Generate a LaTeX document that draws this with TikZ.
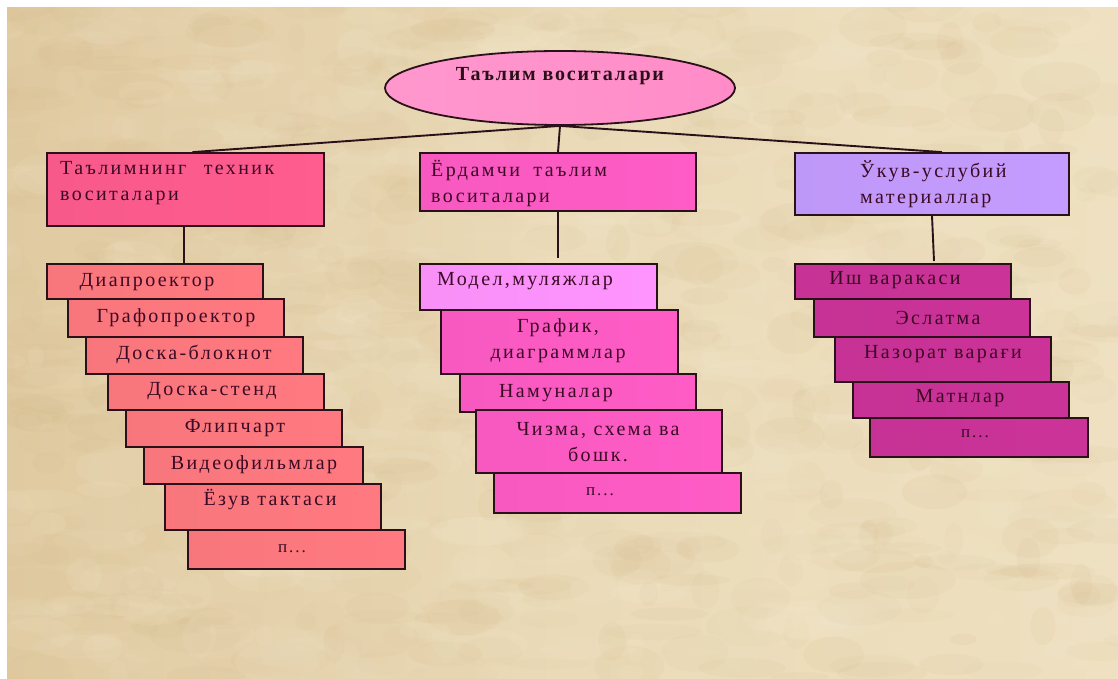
\documentclass[tikz,border=0pt]{standalone}
\usepackage{fontspec}
\setmainfont{Liberation Serif}
\usetikzlibrary{shapes.geometric}
\definecolor{inkc}{HTML}{2A1018}
\definecolor{textc}{HTML}{3C0A24}
\definecolor{paper}{HTML}{EEE0C0}
\definecolor{tanc}{HTML}{D4B888}
\definecolor{pale}{HTML}{F8F0D8}
\definecolor{rootc}{HTML}{FF8CC8}
\definecolor{ca}{HTML}{FF5C8F}
\definecolor{cb}{HTML}{FF5CC6}
\definecolor{cc}{HTML}{C49CFF}
\definecolor{sa}{HTML}{FF7A80}
\definecolor{sm}{HTML}{FF94FF}
\definecolor{sc}{HTML}{CC3399}
\newfontfamily\wide[LetterSpace=12]{Liberation Serif}
\newfontfamily\widebold[LetterSpace=9]{Liberation Serif Bold}
\tikzset{
  boxstyle/.style={draw=inkc,line width=1.8pt,inner sep=0pt,rectangle,left color=#1!97!black,right color=#1},
  lab/.style={font=\wide\fontsize{20}{26}\selectfont,text=textc,inner sep=0pt,align=center,yshift=-1pt},
  labl/.style={lab,align=left,anchor=west,yshift=-1pt},
  dots/.style={font=\wide\fontsize{17}{18}\selectfont,text=textc,inner sep=0pt},
  link/.style={draw=inkc,line width=1.9pt}
}
\newcommand{\bx}[6]{%
  \pgfmathsetmacro{\cxx}{(#2+#4)/2}\pgfmathsetmacro{\cyy}{(#3+#5)/2}%
  \pgfmathsetmacro{\ww}{#4-#2}\pgfmathsetmacro{\hh}{#5-#3}%
  \node[boxstyle=#6,minimum width=\ww pt,minimum height=\hh pt] (#1) at (\cxx,\cyy) {};%
}
\begin{document}
\begin{tikzpicture}[x=1pt,y=-1pt]
\useasboundingbox (0,0) rectangle (1118,679);
\fill[white] (0,0) rectangle (1118,679);
\begin{scope}
\clip (7,8) rectangle (1118,679);
\shade[left color=tanc!55!paper,right color=paper,middle color=paper!85!tanc] (7,8) rectangle (1118,679);
\pgfmathsetseed{4217}
\foreach \i in {1,...,1100}{
  \pgfmathsetmacro{\px}{rnd*1118}
  \pgfmathsetmacro{\py}{rnd*679}
  \pgfmathsetmacro{\rx}{8+rnd*42}
  \pgfmathsetmacro{\ry}{5+rnd*16}
  \pgfmathsetmacro{\op}{.04+rnd*.07}
  \pgfmathsetmacro{\pick}{rnd}
  \ifdim\pick pt<.5pt
    \fill[tanc,opacity=\op] (\px,\py) ellipse [x radius=\rx,y radius=\ry];
  \else
    \fill[pale,opacity=\op] (\px,\py) ellipse [x radius=\rx,y radius=\ry];
  \fi
}
\end{scope}

\node[ellipse,draw=inkc,line width=1.8pt,left color=rootc!90!white,right color=rootc,inner sep=0pt,minimum width=350pt,minimum height=74pt] (root) at (560,88) {};
\node[font=\widebold\fontsize{20}{22}\selectfont,text=inkc,inner sep=0pt] (troot) at (560,76) {Таълим воситалари};

\bx{a}{47}{153}{324}{226}{ca}
\bx{b}{420}{153}{696}{211}{cb}
\bx{c}{795}{153}{1069}{215}{cc}
\node[labl] (ta) at (60,181) {Таълимнинг\hspace{10pt} техник\\воситалари};
\node[labl] (tb) at (431,181) {Ёрдамчи\hspace{6pt} таълим\\воситалари};
\node[labl] (tc) at (860,182) {Ўкув-услубий\\материаллар};

\bx{a1}{47}{264}{263}{299}{sa}
\bx{a2}{68}{299}{284}{337}{sa}
\bx{a3}{86}{337}{303}{374}{sa}
\bx{a4}{108}{374}{324}{410}{sa}
\bx{a5}{126}{410}{342}{447}{sa}
\bx{a6}{144}{447}{363}{484}{sa}
\bx{a7}{165}{484}{381}{530}{sa}
\bx{a8}{188}{530}{405}{569}{sa}
\node[lab] (ta1) at (147,281) {Диапроектор};
\node[lab] (ta2) at (176,317) {Графопроектор};
\node[lab] (ta3) at (194,353) {Доска-блокнот};
\node[lab] (ta4) at (212,390) {Доска-стенд};
\node[lab] (ta5) at (235,427) {Флипчарт};
\node[lab] (ta6) at (254,464) {Видеофильмлар};
\node[lab] (ta7) at (270,499) {Ёзув тактаси};
\node[dots] (ta8) at (292,549) {п...};

\bx{b1}{420}{264}{657}{310}{sm}
\bx{b2}{441}{310}{678}{374}{cb}
\bx{b3}{460}{374}{696}{412}{cb}
\bx{b5}{494}{473}{741}{513}{cb}
\bx{b4}{476}{410}{722}{473}{cb}
\node[lab] (tb1) at (525,280) {Модел,муляжлар};
\node[lab] (tb2) at (558,340) {График,\\диаграммлар};
\node[lab] (tb3) at (556,392) {Намуналар};
\node[lab] (tb4) at (598,441) {Чизма, схема ва\\бошк.};
\node[dots] (tb5) at (600,492) {п...};

\bx{c1}{795}{264}{1011}{299}{sc}
\bx{c2}{814}{299}{1030}{337}{sc}
\bx{c3}{835}{337}{1051}{382}{sc}
\bx{c4}{853}{382}{1069}{418}{sc}
\bx{c5}{870}{418}{1088}{457}{sc}
\node[lab] (tc1) at (895,279) {Иш варакаси};
\node[lab] (tc2) at (938,317) {Эслатма};
\node[lab] (tc3) at (943,353) {Назорат варағи};
\node[lab] (tc4) at (960,397) {Матнлар};
\node[dots] (tc5) at (975,434) {п...};

\coordinate (bend) at (558,258);
\coordinate (cend) at (934,261);
\coordinate (astop) at (184,264);
\draw[link] (root.south) -- ([xshift=7pt]a.north);
\draw[link] (root.south) -- (b.north);
\draw[link] (root.south) -- ([xshift=10pt]c.north);
\draw[link] (a.south -| astop) -- (astop);
\draw[link] (b.south) -- (bend);
\draw[link] (c.south) -- (cend);
\end{tikzpicture}
\end{document}
